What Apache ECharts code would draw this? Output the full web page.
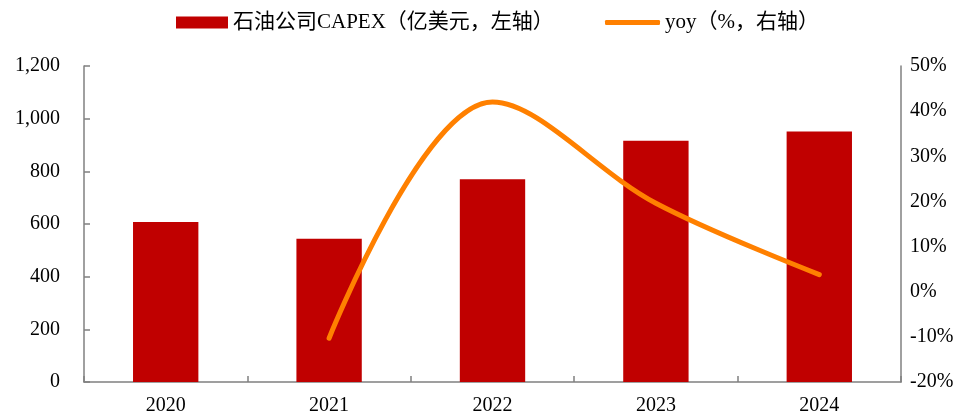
<!DOCTYPE html>
<html><head><meta charset="utf-8">
<script src="https://cdn.jsdelivr.net/npm/echarts@6/dist/echarts.min.js"></script>
<style>html,body{margin:0;padding:0;background:#fff}#c{width:978px;height:418px}</style>
</head><body><div id="c"></div>
<script>
const categories = ['2020', '2021', '2022', '2023', '2024'];
const capex = [608, 544, 770, 916, 951];
const yoy = [null, -10.3, 42, 19.6, 3.8];
const leftTicks = [0, 1200, 200];
const rightTicks = [-20, 50, 10];
const barName = '石油公司CAPEX（亿美元，左轴）';
const lineName = 'yoy（%，右轴）';

const FONT = '"Times New Roman","Liberation Serif","Noto Sans CJK SC",serif';
const axisColor = '#808080';
const chart = echarts.init(document.getElementById('c'));
chart.setOption({
  animation: false,
  textStyle: { fontFamily: FONT },
  legend: [
    { data: [{ name: barName, icon: 'rect' }], left: 171, top: 7, itemWidth: 52, itemHeight: 12, itemGap: 4,
      textStyle: { fontFamily: FONT, fontSize: 21, color: '#000' } },
    { data: [{ name: lineName, icon: 'roundRect' }], left: 600, top: 7, itemWidth: 55, itemHeight: 5, itemGap: 4,
      textStyle: { fontFamily: FONT, fontSize: 21, color: '#000' } }
  ],
  grid: { left: 84, right: 77, top: 66, bottom: 36, containLabel: false },
  xAxis: {
    type: 'category', data: categories,
    axisLine: { lineStyle: { color: axisColor, width: 1.5 } },
    axisTick: { show: true, inside: true, length: 6, lineStyle: { color: axisColor, width: 1.5 } },
    axisLabel: { color: '#000', fontSize: 20, fontFamily: FONT, margin: 14 }
  },
  yAxis: [
    { type: 'value', min: leftTicks[0], max: leftTicks[1], interval: leftTicks[2],
      axisLine: { show: true, lineStyle: { color: axisColor, width: 1.5 } },
      axisTick: { show: true, inside: true, length: 6, lineStyle: { color: axisColor, width: 1.5 } },
      splitLine: { show: false },
      axisLabel: { color: '#000', fontSize: 20, fontFamily: FONT, margin: 24,
        formatter: v => v.toLocaleString('en-US') } },
    { type: 'value', min: rightTicks[0], max: rightTicks[1], interval: rightTicks[2], position: 'right',
      axisLine: { show: true, lineStyle: { color: axisColor, width: 1.5 } },
      axisTick: { show: false },
      splitLine: { show: false },
      axisLabel: { color: '#000', fontSize: 20, fontFamily: FONT, margin: 9, formatter: v => v + '%' } }
  ],
  series: [
    { name: barName, type: 'bar', data: capex, yAxisIndex: 0, barWidth: '40%',
      itemStyle: { color: '#C00000' } },
    { name: lineName, type: 'line', data: yoy, yAxisIndex: 1, smooth: 0.35, showSymbol: false, symbol: 'none',
      connectNulls: false,
      lineStyle: { color: '#FF8000', width: 5, cap: 'round' }, itemStyle: { color: '#FF8000' } }
  ]
});
</script></body></html>
